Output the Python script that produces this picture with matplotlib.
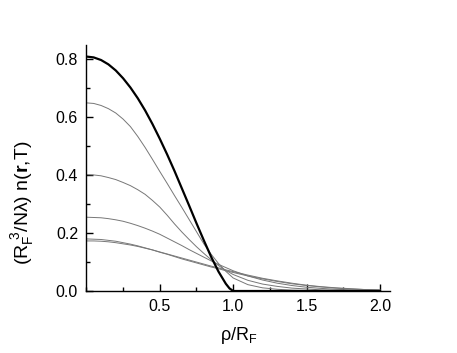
import matplotlib
matplotlib.use("Agg")
import matplotlib.pyplot as plt
from matplotlib.ticker import MultipleLocator, FixedLocator

# radial coordinate rho/R_F
x_bold = [0.0, 0.05, 0.1, 0.15, 0.2, 0.25, 0.3, 0.35, 0.4, 0.45, 0.5, 0.55,
          0.6, 0.65, 0.7, 0.75, 0.8, 0.85, 0.9, 0.95, 0.975, 1.0, 1.5, 2.0]
# T = 0 profile (thick line)
y_bold = [0.810, 0.807, 0.798, 0.783, 0.762, 0.735, 0.703, 0.666, 0.624, 0.577,
          0.526, 0.472, 0.415, 0.355, 0.295, 0.234, 0.175, 0.118, 0.067, 0.025,
          0.009, 0.0, 0.0, 0.0]

x_grid = [0.0, 0.05, 0.1, 0.15, 0.2, 0.25, 0.3, 0.35, 0.4, 0.45, 0.5,
          0.55, 0.6, 0.65, 0.7, 0.75, 0.8, 0.85, 0.9, 0.95, 1.0,
          1.1, 1.2, 1.3, 1.4, 1.5, 1.6, 1.7, 1.8, 1.9, 2.0]
# finite temperature profiles (thin gray lines)
y_t1 = [0.650, 0.648, 0.641, 0.630, 0.615, 0.594, 0.568, 0.534, 0.496, 0.455, 0.413,
        0.372, 0.330, 0.289, 0.247, 0.205, 0.163, 0.127, 0.095, 0.068, 0.045,
        0.022, 0.011, 0.006, 0.003, 0.002, 0.001, 0.0, 0.0, 0.0, 0.0]
y_t2 = [0.402, 0.401, 0.398, 0.392, 0.385, 0.375, 0.364, 0.350, 0.334, 0.313, 0.290,
        0.262, 0.232, 0.204, 0.178, 0.153, 0.130, 0.108, 0.088, 0.071, 0.057,
        0.037, 0.024, 0.016, 0.010, 0.007, 0.004, 0.003, 0.002, 0.001, 0.0]
y_t3 = [0.255, 0.254, 0.253, 0.250, 0.246, 0.241, 0.234, 0.226, 0.217, 0.207, 0.196,
        0.183, 0.170, 0.157, 0.143, 0.130, 0.117, 0.104, 0.092, 0.081, 0.070,
        0.052, 0.038, 0.027, 0.019, 0.013, 0.009, 0.006, 0.004, 0.003, 0.002]
y_t4 = [0.180, 0.179, 0.178, 0.175, 0.172, 0.167, 0.162, 0.156, 0.149, 0.142, 0.134,
        0.127, 0.119, 0.111, 0.104, 0.097, 0.090, 0.083, 0.077, 0.070, 0.064,
        0.052, 0.042, 0.033, 0.025, 0.019, 0.014, 0.010, 0.007, 0.005, 0.003]
y_t5 = [0.173, 0.173, 0.172, 0.170, 0.167, 0.163, 0.159, 0.154, 0.148, 0.142, 0.135,
        0.128, 0.121, 0.114, 0.107, 0.100, 0.093, 0.086, 0.080, 0.073, 0.067,
        0.055, 0.044, 0.035, 0.027, 0.020, 0.015, 0.011, 0.008, 0.005, 0.004]

x_ticks = [0.5, 1.0, 1.5, 2.0]

plt.rcParams["font.family"] = ["Liberation Sans", "DejaVu Sans"]
plt.rcParams["mathtext.fontset"] = "custom"
plt.rcParams["mathtext.rm"] = "Liberation Sans"
plt.rcParams["mathtext.it"] = "Liberation Sans"
plt.rcParams["mathtext.bf"] = "Liberation Sans:bold"

fig = plt.figure(figsize=(4.57, 3.53), dpi=100)
ax = fig.add_axes([0.189, 0.1756, 0.665, 0.697])

for ys in [y_t1, y_t2, y_t3, y_t4, y_t5]:
    ax.plot(x_grid, ys, color="#777777", linewidth=0.7)
ax.plot(x_bold, y_bold, color="black", linewidth=1.6)

ax.set_xlim(0, 2.07)
ax.set_ylim(0, 0.85)
ax.spines["top"].set_visible(False)
ax.spines["right"].set_visible(False)
ax.spines["left"].set_linewidth(1.0)
ax.spines["bottom"].set_linewidth(1.0)

ax.xaxis.set_major_locator(FixedLocator(x_ticks))
ax.xaxis.set_minor_locator(MultipleLocator(0.25))
ax.yaxis.set_major_locator(MultipleLocator(0.2))
ax.yaxis.set_minor_locator(MultipleLocator(0.1))
ax.xaxis.set_major_formatter(plt.FuncFormatter(lambda v, p: f"{v:.1f}"))
ax.yaxis.set_major_formatter(plt.FuncFormatter(lambda v, p: f"{v:.1f}"))
ax.tick_params(which="major", direction="in", length=5, width=1.0, labelsize=11.5, pad=6)
ax.tick_params(which="minor", direction="in", length=3, width=1.0)

ax.set_xlabel(r"$\rho$/R$_F$", fontsize=13, labelpad=8)
ax.set_ylabel(r"$(R_F^{\ 3}/N\lambda)\ n(\mathbf{r}{,}T)$", fontsize=14)
ax.yaxis.set_label_coords(-0.165, 0.36)

fig.savefig("out.png", dpi=100)
